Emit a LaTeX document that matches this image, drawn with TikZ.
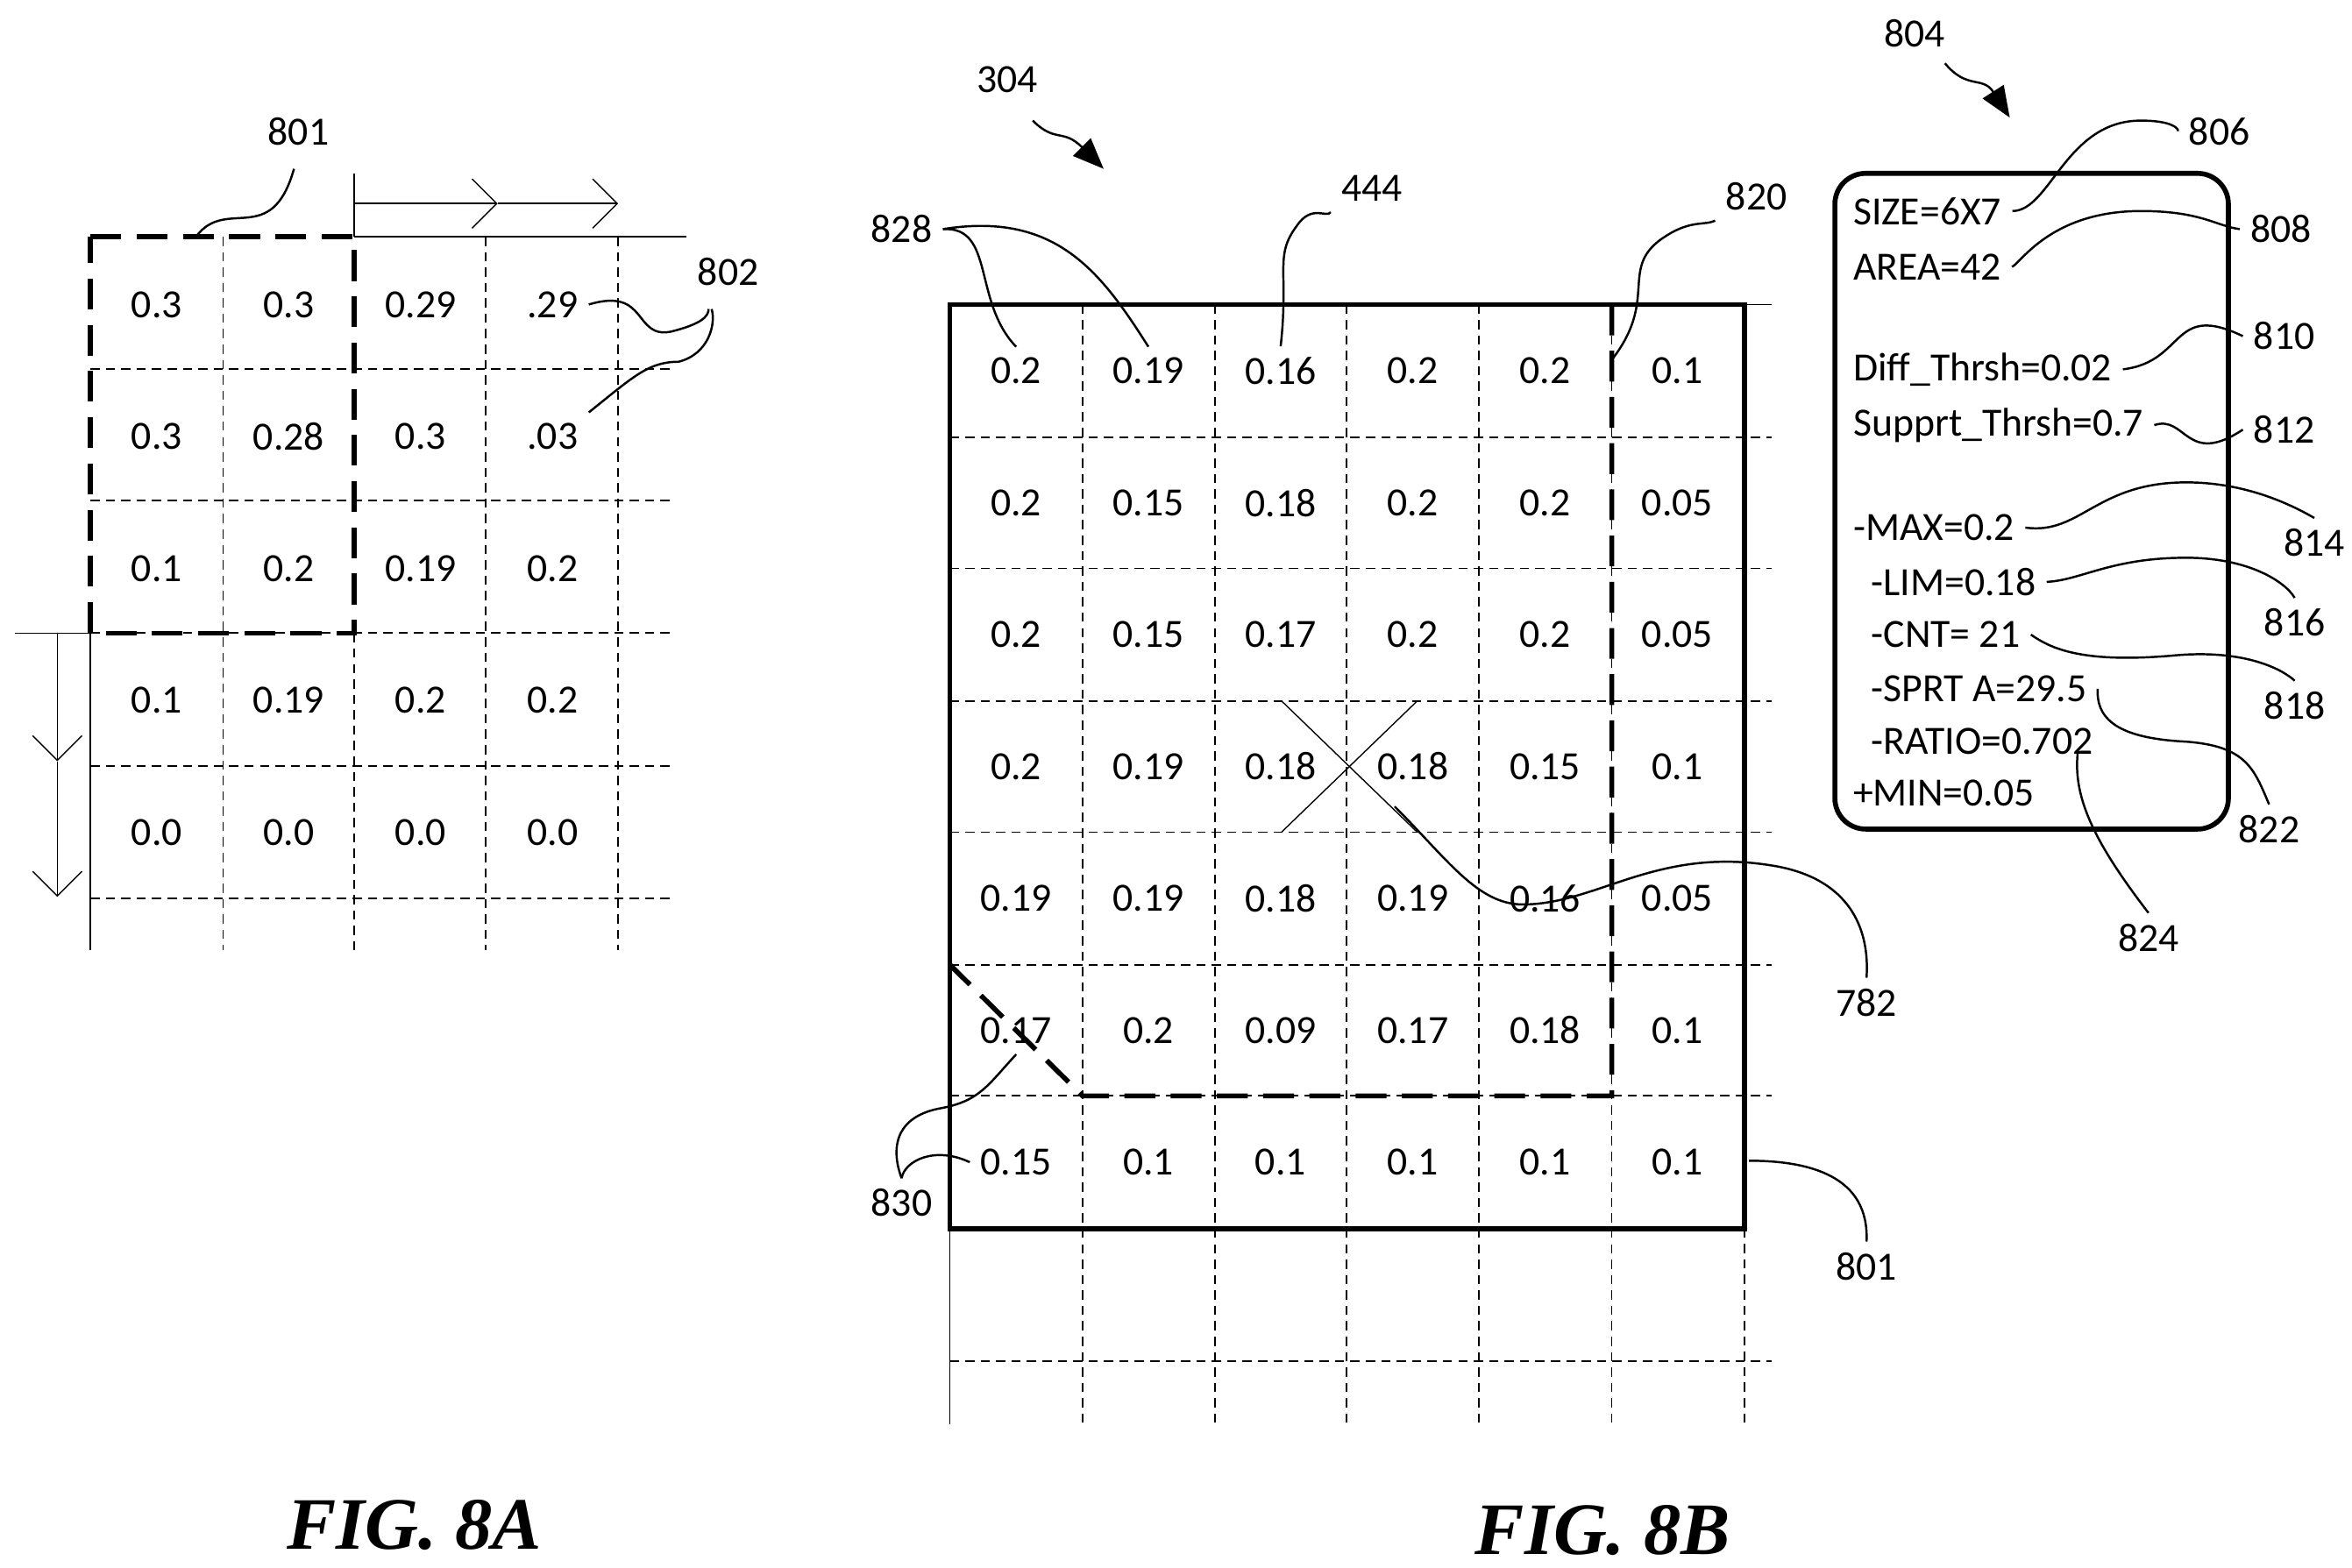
\documentclass[tikz,border=0pt]{standalone}
\usepackage{fontspec}
\setmainfont{Carlito}
\newfontfamily\figfont{Liberation Serif}
\usetikzlibrary{arrows.meta}
\begin{document}
\begin{tikzpicture}[x=0.0172cm,y=-0.0172cm,font=\fontsize{13}{15}\selectfont,
  thin grid/.style={densely dashed,line width=0.5pt},
  heavy/.style={dash pattern=on 10pt off 5pt,line width=1.6pt},
  lead/.style={line width=0.7pt},
  fig title/.style={font=\figfont\bfseries\itshape\fontsize{24}{26}\selectfont}]
\useasboundingbox (0,0) rectangle (1560,1040);
% FIG 8A grid
\foreach \y in {245,332,420,508,596} \draw[thin grid] (60,\y) -- (445,\y);
\foreach \x in {148,322,410} \draw[thin grid] (\x,157) -- (\x,630);
\draw[thin grid] (235,420) -- (235,630);
\draw (235,157) -- (455,157);
\draw (60,420) -- (60,630);
\draw (10,420) -- (60,420);
\draw[heavy] (60,157) -- (235,157) -- (235,420) -- (60,420) -- cycle;
\draw (235,157) -- (235,115);
\draw[-{Straight Barb[length=8pt]}] (235,135) -- (330,135);
\draw[-{Straight Barb[length=8pt]}] (330,135) -- (410,135);
\draw[-{Straight Barb[length=8pt]}] (38,420) -- (38,505);
\draw[-{Straight Barb[length=8pt]}] (38,505) -- (38,595);
\foreach \r [count=\j from 0] in {{0.3,0.3,0.29,.29},{0.3,0.28,0.3,.03},{0.1,0.2,0.19,0.2},{0.1,0.19,0.2,0.2},{0.0,0.0,0.0,0.0}}
  \foreach \v [count=\i from 0] in \r
    \node (a\i\j) at (104+87.5*\i,202+87.5*\j) {\v};
\node (l801a) at (198,87) {801};
\coordinate (p801a) at (130,157);
\draw[lead] (p801a) .. controls (150,130) and (180,165) .. (195,112);
\node (l802) at (483,180) {802};
\draw[lead] (a30.east) .. controls (430,190) and (420,225) .. (445,220) .. controls (465,215) and (470,210) .. (470,205);
\draw[lead] (a31.north east) .. controls (420,250) and (430,240) .. (450,240) .. controls (470,235) and (475,215) .. (472,205);
% FIG 8B grid
\foreach \y in {290,377,465,552,640,727,903} \draw[thin grid] (630,\y) -- (1175,\y);
\foreach \x in {718,806,893,981,1069} \draw[thin grid] (\x,202) -- (\x,945);
\draw (630,815) -- (630,945);
\draw[thin grid] (1157,815) -- (1157,945);
\draw (1157,202) -- (1175,202);
\draw[line width=1.6pt] (630,202) rectangle (1157,815);
\draw[heavy] (1069,202) -- (1069,727) -- (718,727) -- (630,640);
\draw (850,465) -- (940,552);
\draw (940,465) -- (850,552);
\foreach \r [count=\j from 0] in {{0.2,0.19,0.16,0.2,0.2,0.1},{0.2,0.15,0.18,0.2,0.2,0.05},{0.2,0.15,0.17,0.2,0.2,0.05},{0.2,0.19,0.18,0.18,0.15,0.1},{0.19,0.19,0.18,0.19,0.16,0.05},{0.17,0.2,0.09,0.17,0.18,0.1},{0.15,0.1,0.1,0.1,0.1,0.1}}
  \foreach \v [count=\i from 0] in \r
    \node (b\i\j) at (674+87.7*\i,246+87.5*\j) {\v};
\node (l304) at (668,53) {304};
\coordinate (p304) at (732,112);
\draw[lead,-{Triangle[length=10pt,width=8pt]}] (685,80) .. controls (700,95) and (705,85) .. (p304);
\node (l444) at (910,125) {444};
\draw[lead] (b20.north) .. controls (855,180) and (845,170) .. (860,150) .. controls (870,135) and (880,145) .. (l444.south west);
\node (l820) at (1165,130) {820};
\draw[lead] (1068,240) .. controls (1100,200) and (1075,180) .. (1100,160) .. controls (1120,145) and (1130,150) .. (l820.south west);
\node (l828) at (598,152) {828};
\draw[lead] (l828.east) .. controls (660,150) and (645,200) .. (b00.north);
\draw[lead] (l828.east) .. controls (700,140) and (730,180) .. (b10.north);
\node (l782) at (1238,665) {782};
\draw[lead] (925,535) .. controls (960,570) and (980,600) .. (1010,600) .. controls (1060,600) and (1100,560) .. (1180,575) .. controls (1230,585) and (1240,620) .. (l782.north);
\node (l830) at (598,798) {830};
\draw[lead] (l830.north) .. controls (590,760) and (595,740) .. (625,735) .. controls (650,730) and (655,720) .. (b05.south);
\draw[lead] (l830.north) .. controls (600,770) and (620,760) .. (b06.west);
\node (l801b) at (1238,840) {801};
\draw[lead] (1160,770) .. controls (1200,770) and (1240,780) .. (l801b.north);
% box 804
\draw[line width=1.6pt,rounded corners=10pt] (1217,115) rectangle (1478,550);
\node (l804) at (1270,22) {804};
\coordinate (p804) at (1333,78);
\draw[lead,-{Triangle[length=10pt,width=8pt]}] (1290,42) .. controls (1305,60) and (1315,50) .. (p804);
\node[anchor=west] (t1) at (1222,140) {SIZE=6X7};
\node[anchor=west] (t2) at (1222,177) {AREA=42};
\node[anchor=west] (t3) at (1222,245) {Diff\_Thrsh=0.02};
\node[anchor=west] (t4) at (1222,282) {Supprt\_Thrsh=0.7};
\node[anchor=west] (t5) at (1222,350) {-MAX=0.2};
\node[anchor=west] (t6) at (1234,386) {-LIM=0.18};
\node[anchor=west] (t7) at (1234,421) {-CNT= 21};
\node[anchor=west] (t8) at (1234,457) {-SPRT A=29.5};
\node[anchor=west] (t9) at (1234,492) {-RATIO=0.702};
\node[anchor=west] (t10) at (1222,526) {+MIN=0.05};
\node (l806) at (1472,87) {806};
\draw[lead] (t1.east) .. controls (1360,140) and (1370,80) .. (1420,80) .. controls (1440,80) and (1445,85) .. (l806.west);
\node (l808) at (1513,152) {808};
\draw[lead] (t2.east) .. controls (1340,175) and (1360,140) .. (1420,140) .. controls (1460,140) and (1470,150) .. (l808.west);
\node (l810) at (1515,223) {810};
\draw[lead] (t3.east) .. controls (1450,240) and (1440,200) .. (l810.west);
\node (l812) at (1515,285) {812};
\draw[lead] (t4.east) .. controls (1450,275) and (1450,310) .. (l812.west);
\node (l814) at (1535,360) {814};
\draw[lead] (t5.east) .. controls (1380,355) and (1390,320) .. (1450,320) .. controls (1490,320) and (1520,335) .. (l814.north);
\node (l816) at (1522,413) {816};
\draw[lead] (t6.east) .. controls (1380,385) and (1400,370) .. (1450,370) .. controls (1490,370) and (1515,385) .. (l816.north);
\node (l818) at (1522,468) {818};
\draw[lead] (t7.east) .. controls (1360,430) and (1380,440) .. (1440,435) .. controls (1490,430) and (1515,445) .. (l818.north);
\node (l822) at (1505,550) {822};
\draw[lead] (t8.east) .. controls (1390,480) and (1410,490) .. (1450,492) .. controls (1490,495) and (1495,510) .. (l822.north);
\node (l824) at (1425,622) {824};
\draw[lead] (1378,500) .. controls (1375,530) and (1390,560) .. (l824.north);
% captions
\node[fig title] (f8a) at (275,1012) {FIG. 8A};
\node[fig title] (f8b) at (1063,1015) {FIG. 8B};
\end{tikzpicture}
\end{document}
